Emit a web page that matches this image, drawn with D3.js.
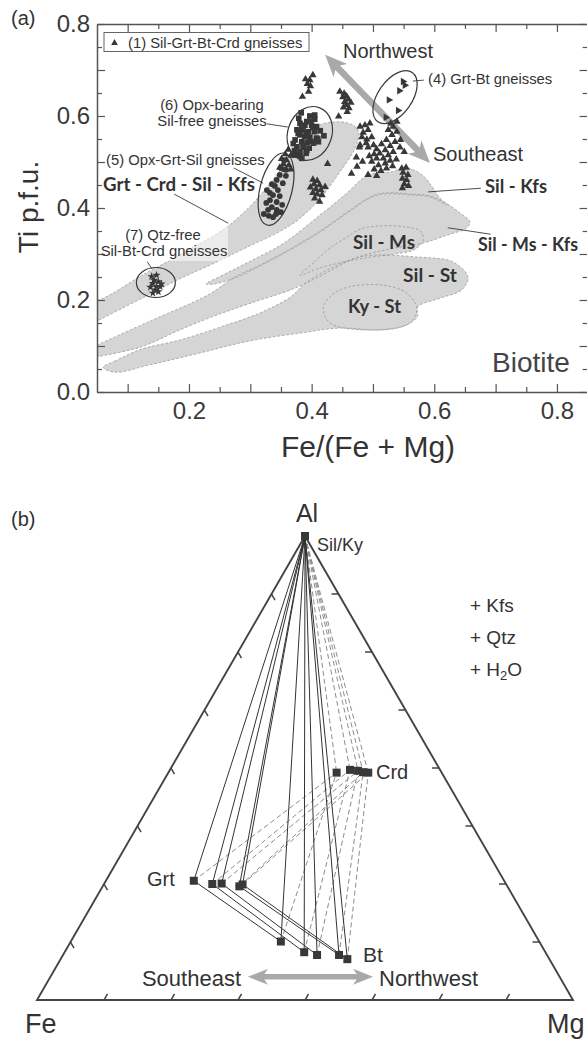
<!DOCTYPE html>
<html>
<head>
<meta charset="utf-8">
<script src="https://cdn.jsdelivr.net/npm/d3@7/dist/d3.min.js"></script>
<style>
html,body{margin:0;padding:0;background:#fff;}
svg{display:block;}
</style>
</head>
<body>
<svg id="chart" width="587" height="1040"></svg>
<script>
// ================= Panel (a) data =================
const xMajorA = [0.1,0.2,0.3,0.4,0.5,0.6,0.7,0.8];
const xMinorA = [0.15,0.25,0.35,0.45,0.55,0.65,0.75,0.85];
const yMajorA = [0.0,0.1,0.2,0.3,0.4,0.5,0.6,0.7,0.8];
const yMinorA = [0.05,0.15,0.25,0.35,0.45,0.55,0.65,0.75];
const xLabelsA = [0.2,0.4,0.6,0.8];
const yLabelsA = [0.0,0.2,0.4,0.6,0.8];

// (1) Sil-Grt-Bt-Crd gneisses  [Fe/(Fe+Mg), Ti]
const silGrtBtCrd = [
 [0.402,0.689],[0.390,0.680],[0.397,0.678],[0.393,0.670],[0.398,0.665],[0.395,0.653],[0.385,0.642],
 [0.446,0.653],[0.453,0.649],[0.457,0.643],[0.451,0.641],[0.460,0.636],[0.454,0.631],[0.464,0.629],[0.457,0.624],[0.452,0.619],[0.461,0.617],[0.458,0.609],[0.444,0.599],
 [0.479,0.577],[0.487,0.580],[0.495,0.584],[0.492,0.570],[0.484,0.564],[0.482,0.554],[0.490,0.549],[0.498,0.554],[0.479,0.537],[0.492,0.532],[0.501,0.537],[0.506,0.528],[0.514,0.539],[0.522,0.548],[0.531,0.559],[0.533,0.577],[0.539,0.566],[0.525,0.570],[0.536,0.544],[0.528,0.535],[0.520,0.526],[0.511,0.519],[0.502,0.517],[0.494,0.513],[0.506,0.508],[0.517,0.508],[0.525,0.515],[0.533,0.522],[0.544,0.532],[0.551,0.522],[0.498,0.501],[0.509,0.493],[0.520,0.497],[0.528,0.503],[0.538,0.506],[0.502,0.484],[0.513,0.481],[0.522,0.486],[0.532,0.491],[0.506,0.470],[0.492,0.472],[0.483,0.501],[0.473,0.510],[0.465,0.475],[0.478,0.532],[0.489,0.541],[0.539,0.588],[0.529,0.584],[0.545,0.548],
 [0.402,0.462],[0.409,0.459],[0.404,0.452],[0.413,0.450],[0.398,0.445],[0.407,0.441],[0.415,0.439],[0.402,0.433],[0.409,0.430],[0.417,0.428],[0.405,0.421],[0.413,0.414],[0.422,0.446],[0.426,0.496],
 [0.547,0.486],[0.554,0.488],[0.549,0.477],[0.557,0.472],[0.548,0.464],[0.555,0.461],[0.551,0.452],[0.558,0.448],[0.548,0.443],
 [0.362,0.527],[0.357,0.517],[0.366,0.514],[0.351,0.507],[0.359,0.504],[0.354,0.496],[0.363,0.493],[0.348,0.488],[0.357,0.483],[0.366,0.484],
 [0.474,0.490]
];
// (4) Grt-Bt gneisses
const grtBt = [[0.549,0.675],[0.552,0.667],[0.543,0.655],[0.526,0.635],[0.541,0.612],[0.521,0.597]];
// (5) Opx-Grt-Sil gneisses
const opxGrtSil = [
 [0.355,0.504],[0.350,0.487],[0.358,0.483],[0.348,0.472],[0.358,0.470],[0.343,0.461],[0.353,0.454],[0.335,0.452],[0.340,0.448],[0.327,0.439],[0.345,0.439],[0.332,0.433],[0.337,0.428],[0.348,0.426],[0.332,0.417],[0.343,0.413],[0.326,0.411],[0.352,0.407],[0.335,0.402],[0.329,0.396],[0.343,0.396],[0.350,0.391],[0.322,0.387],[0.342,0.387],[0.330,0.383],[0.337,0.380]
];
// (6) Opx-bearing Sil-free gneisses
const opxSilFree = [
 [0.383,0.607],[0.397,0.600],[0.405,0.593],[0.381,0.584],[0.389,0.580],[0.400,0.580],[0.408,0.577],[0.376,0.570],[0.386,0.570],[0.395,0.566],[0.405,0.566],[0.414,0.568],[0.420,0.557],[0.381,0.559],[0.389,0.555],[0.397,0.554],[0.408,0.552],[0.373,0.548],[0.384,0.544],[0.393,0.542],[0.403,0.541],[0.411,0.544],[0.376,0.533],[0.386,0.532],[0.396,0.530],[0.381,0.522],[0.391,0.519],[0.373,0.515],[0.381,0.512],
 [0.379,0.595],[0.392,0.588],[0.402,0.575],[0.378,0.562],[0.391,0.562],[0.399,0.545],[0.387,0.537],[0.372,0.525],[0.392,0.525],[0.384,0.508],[0.410,0.550],[0.370,0.540],[0.398,0.588],[0.384,0.572],[0.405,0.602]
];
// (7) Qtz-free Sil-Bt-Crd gneisses
const qtzFree = [[0.139,0.251],[0.147,0.254],[0.143,0.243],[0.150,0.240],[0.141,0.236],[0.147,0.229],[0.153,0.229],[0.145,0.222],[0.150,0.218],[0.155,0.235],[0.137,0.228],[0.141,0.215]];

// Biotite stability fields (outline vertices)
const fieldGrtCrdSilKfs = [[0.040,0.207],[0.050,0.200],[0.128,0.257],[0.197,0.307],[0.264,0.361],[0.309,0.417],[0.344,0.474],[0.366,0.517],[0.389,0.559],[0.412,0.580],[0.435,0.587],[0.458,0.585],[0.472,0.576],[0.477,0.563],[0.474,0.540],[0.463,0.511],[0.446,0.478],[0.430,0.448],[0.414,0.420],[0.394,0.393],[0.374,0.370],[0.344,0.346],[0.298,0.317],[0.241,0.280],[0.185,0.246],[0.128,0.207],[0.050,0.154],[0.040,0.147]];
const fieldSilKfs = [[0.228,0.235],[0.252,0.252],[0.298,0.283],[0.355,0.324],[0.412,0.383],[0.458,0.433],[0.480,0.461],[0.497,0.474],[0.528,0.478],[0.555,0.487],[0.582,0.470],[0.609,0.422],[0.621,0.407],[0.593,0.424],[0.565,0.428],[0.507,0.428],[0.458,0.389],[0.414,0.348],[0.365,0.309],[0.316,0.274],[0.275,0.248],[0.242,0.235]];
const fieldSilMsKfs = [[0.040,0.096],[0.050,0.102],[0.136,0.154],[0.231,0.211],[0.275,0.250],[0.316,0.276],[0.365,0.311],[0.414,0.350],[0.458,0.391],[0.507,0.430],[0.565,0.430],[0.593,0.426],[0.621,0.409],[0.642,0.389],[0.658,0.370],[0.653,0.357],[0.621,0.341],[0.582,0.324],[0.528,0.311],[0.471,0.291],[0.414,0.252],[0.366,0.222],[0.316,0.200],[0.251,0.170],[0.185,0.135],[0.122,0.098],[0.050,0.076],[0.040,0.072]];
const fieldSilMs = [[0.381,0.254],[0.405,0.283],[0.430,0.313],[0.458,0.337],[0.479,0.354],[0.511,0.361],[0.552,0.359],[0.577,0.350],[0.582,0.330],[0.567,0.309],[0.536,0.300],[0.495,0.293],[0.454,0.283],[0.414,0.270]];
const fieldSilSt = [[0.060,0.054],[0.079,0.067],[0.122,0.093],[0.185,0.113],[0.251,0.141],[0.316,0.172],[0.366,0.207],[0.389,0.236],[0.430,0.268],[0.484,0.295],[0.577,0.293],[0.630,0.283],[0.655,0.250],[0.645,0.222],[0.609,0.204],[0.573,0.185],[0.572,0.163],[0.555,0.146],[0.511,0.135],[0.446,0.139],[0.381,0.128],[0.299,0.111],[0.218,0.085],[0.136,0.059],[0.079,0.043]];
const fieldKySt = [[0.419,0.185],[0.446,0.222],[0.511,0.233],[0.555,0.215],[0.572,0.178],[0.555,0.146],[0.484,0.135],[0.430,0.150]];

// centres of the sample-group envelopes
const groupCentres = [
  {g:"4", c:[0.536,0.641]},
  {g:"6", c:[0.397,0.562]},
  {g:"5", c:[0.342,0.441]},
  {g:"7", c:[0.146,0.238]}
];
// NW-SE trend arrow end points
const trendA = [[0.422,0.733],[0.593,0.498]];
// label leader lines [from, to]
const leadersA = [
  [[0.327,0.583],[0.361,0.576]],
  [[0.273,0.487],[0.321,0.454]],
  [[0.132,0.283],[0.140,0.267]],
  [[0.565,0.676],[0.583,0.678]],
  [[0.176,0.430],[0.264,0.367]],
  [[0.590,0.435],[0.676,0.443]],
  [[0.622,0.357],[0.692,0.343]]
];

// ================= Panel (b) data  [Fe, Mg, Al] =================
const silKy = [0,0,1];
const crd = [[0.196,0.314,0.490],[0.168,0.336,0.496],[0.154,0.352,0.494],[0.146,0.363,0.491],[0.137,0.373,0.490]];
const grt = [[0.579,0.164,0.257],[0.548,0.202,0.250],[0.530,0.219,0.251],[0.500,0.255,0.245],[0.492,0.259,0.249]];
const bt  = [[0.482,0.392,0.126],[0.450,0.447,0.103],[0.429,0.474,0.097],[0.388,0.515,0.097],[0.377,0.535,0.088]];
const trendB = [[0.582,0.369,0.050],[0.348,0.602,0.050]];
const ternTicks = [0.125,0.25,0.375,0.5,0.625,0.75,0.875];

// ================= drawing =================
const SANS = '"Liberation Sans", Arial, Helvetica, sans-serif';
const BOLD = 'Lato, "Open Sans", "DejaVu Sans", sans-serif';
const INK = '#383838';
const AX = '#555';
const svg = d3.select('#chart');

function txt(g, x, y, s, size, opts={}) {
  const t = g.append('text').attr('x', x).attr('y', y).text(s)
    .attr('font-family', opts.family || SANS).attr('font-size', size)
    .attr('fill', opts.fill || '#333');
  if (opts.anchor) t.attr('text-anchor', opts.anchor);
  if (opts.weight) t.attr('font-weight', opts.weight);
  if (opts.len) t.attr('textLength', opts.len).attr('lengthAdjust', 'spacingAndGlyphs');
  return t;
}
function arrowPath(p1, p2, shaft, headL, headW) {
  const dx = p2[0]-p1[0], dy = p2[1]-p1[1], L = Math.hypot(dx, dy);
  const ux = dx/L, uy = dy/L, nx = -uy, ny = ux;
  const P = (p, a, b) => [p[0]+ux*a+nx*b, p[1]+uy*a+ny*b];
  const pts = [p1, P(p1, headL, headW/2), P(p1, headL*0.82, shaft/2), P(p2, -headL*0.82, shaft/2),
    P(p2, -headL, headW/2), p2, P(p2, -headL, -headW/2), P(p2, -headL*0.82, -shaft/2),
    P(p1, headL*0.82, -shaft/2), P(p1, headL, -headW/2)];
  return 'M' + pts.map(p => p[0].toFixed(2)+','+p[1].toFixed(2)).join('L') + 'Z';
}

// ---------- Panel (a)
const xA = d3.scaleLinear().domain([0.05, 0.85]).range([97, 587.6]);
const yA = d3.scaleLinear().domain([0, 0.8]).range([392, 24]);
const gA = svg.append('g');

svg.append('defs').append('clipPath').attr('id', 'clipA')
  .append('rect').attr('x', xA(0.05)).attr('y', yA(0.8))
  .attr('width', xA(0.85)-xA(0.05)).attr('height', yA(0)-yA(0.8));

const fields = [fieldGrtCrdSilKfs, fieldSilKfs, fieldSilMsKfs, fieldSilMs, fieldSilSt, fieldKySt];
const fLine = d3.line().x(d => xA(d[0])).y(d => yA(d[1])).curve(d3.curveCatmullRomClosed.alpha(0.5));
const gF = gA.append('g').attr('clip-path', 'url(#clipA)');
gF.selectAll('path.fill').data(fields).join('path').attr('class','fill')
  .attr('d', fLine).attr('fill', '#d5d5d5').attr('stroke', 'none');
gF.selectAll('path.edge').data(fields).join('path').attr('class','edge')
  .attr('d', fLine).attr('fill', 'none').attr('stroke', '#8f8f8f')
  .attr('stroke-width', 0.7).attr('stroke-dasharray', '2.5,2');

// label background for (7)
gA.append('rect').attr('x', 98).attr('y', 226).attr('width', 130).attr('height', 35)
  .attr('fill', '#fff').attr('opacity', 0.55);

// trend arrow
gA.append('path').attr('d', arrowPath([xA(trendA[0][0]), yA(trendA[0][1])], [xA(trendA[1][0]), yA(trendA[1][1])], 6.5, 22, 19))
  .attr('fill', '#a9a9a9');

// leaders
gA.selectAll('line.lead').data(leadersA).join('line').attr('class','lead')
  .attr('x1', d => xA(d[0][0])).attr('y1', d => yA(d[0][1]))
  .attr('x2', d => xA(d[1][0])).attr('y2', d => yA(d[1][1]))
  .attr('stroke', '#3a3a3a').attr('stroke-width', 0.9);

// markers
const sym = (type, size) => d3.symbol().type(type).size(size)();
gA.selectAll('path.t1').data(silGrtBtCrd).join('path').attr('class','t1')
  .attr('d', sym(d3.symbolTriangle, 24))
  .attr('transform', d => `translate(${xA(d[0])},${yA(d[1])})`).attr('fill', INK);
gA.selectAll('path.t4').data(grtBt).join('path').attr('class','t4')
  .attr('d', sym(d3.symbolTriangle, 24))
  .attr('transform', d => `translate(${xA(d[0])},${yA(d[1])}) rotate(90)`).attr('fill', INK);
gA.selectAll('path.s6').data(opxSilFree).join('path').attr('class','s6')
  .attr('d', sym(d3.symbolSquare, 32))
  .attr('transform', d => `translate(${xA(d[0])},${yA(d[1])})`).attr('fill', INK);
gA.selectAll('circle.c5').data(opxGrtSil).join('circle').attr('class','c5')
  .attr('cx', d => xA(d[0])).attr('cy', d => yA(d[1])).attr('r', 2.9).attr('fill', INK);
gA.selectAll('path.st7').data(qtzFree).join('path').attr('class','st7')
  .attr('d', sym(d3.symbolStar, 22))
  .attr('transform', d => `translate(${xA(d[0])},${yA(d[1])})`).attr('fill', INK);

// envelopes
const envShape = {"4": [30, 17, -55], "6": [22, 27.5, 20], "5": [16, 37, 14], "7": [19.5, 15, 0]};
gA.selectAll('ellipse.env').data(groupCentres).join('ellipse').attr('class','env')
  .attr('rx', d => envShape[d.g][0]).attr('ry', d => envShape[d.g][1])
  .attr('transform', d => `translate(${xA(d.c[0])},${yA(d.c[1])}) rotate(${envShape[d.g][2]})`)
  .attr('fill', 'none').attr('stroke', '#3a3a3a').attr('stroke-width', 1.2);

// axes
function styleAxis(g, fs) {
  g.select('.domain').attr('stroke', AX).attr('stroke-width', 1.5);
  g.selectAll('.tick line').attr('stroke', AX).attr('stroke-width', 1.2);
  g.selectAll('.tick text').attr('font-family', SANS).attr('font-size', fs).attr('fill', '#3a3a3a');
  g.attr('font-family', null).attr('font-size', null);
}
const fmt = d3.format('.1f');
const bx = gA.append('g').attr('transform', `translate(0,${yA(0)})`)
  .call(d3.axisBottom(xA).tickValues(xMajorA).tickSize(-8).tickSizeOuter(0).tickPadding(10)
    .tickFormat(d => xLabelsA.includes(d) ? fmt(d) : ''));
styleAxis(bx, 24);
const bx2 = gA.append('g').attr('transform', `translate(0,${yA(0)})`)
  .call(d3.axisBottom(xA).tickValues(xMinorA).tickSize(-5).tickSizeOuter(0).tickFormat(''));
styleAxis(bx2, 24); bx2.select('.domain').remove();
const tx = gA.append('g').attr('transform', `translate(0,${yA(0.8)})`)
  .call(d3.axisTop(xA).tickValues(xMajorA).tickSize(-8).tickSizeOuter(0).tickFormat(''));
styleAxis(tx, 24);
const tx2 = gA.append('g').attr('transform', `translate(0,${yA(0.8)})`)
  .call(d3.axisTop(xA).tickValues(xMinorA).tickSize(-5).tickSizeOuter(0).tickFormat(''));
styleAxis(tx2, 24); tx2.select('.domain').remove();
const ly = gA.append('g').attr('transform', `translate(${xA(0.05)},0)`)
  .call(d3.axisLeft(yA).tickValues(yMajorA).tickSize(-8).tickSizeOuter(0).tickPadding(7)
    .tickFormat(d => yLabelsA.includes(d) ? fmt(d) : ''));
styleAxis(ly, 24);
const ly2 = gA.append('g').attr('transform', `translate(${xA(0.05)},0)`)
  .call(d3.axisLeft(yA).tickValues(yMinorA).tickSize(-5).tickSizeOuter(0).tickFormat(''));
styleAxis(ly2, 24); ly2.select('.domain').remove();
const ry = gA.append('g').attr('transform', `translate(${xA(0.85)},0)`)
  .call(d3.axisRight(yA).tickValues(yMajorA).tickSize(-8).tickSizeOuter(0).tickFormat(''));
styleAxis(ry, 24);
const ry2 = gA.append('g').attr('transform', `translate(${xA(0.85)},0)`)
  .call(d3.axisRight(yA).tickValues(yMinorA).tickSize(-5).tickSizeOuter(0).tickFormat(''));
styleAxis(ry2, 24); ry2.select('.domain').remove();

// legend
gA.append('rect').attr('x', 104).attr('y', 32.5).attr('width', 205).attr('height', 19)
  .attr('fill', '#fff').attr('stroke', '#555').attr('stroke-width', 0.9);
gA.append('path').attr('d', sym(d3.symbolTriangle, 20)).attr('transform', 'translate(114.5,43)').attr('fill', INK);
txt(gA, 128, 47.5, '(1) Sil-Grt-Bt-Crd gneisses', 14.8);

// texts (a)
txt(gA, 11, 25, '(a)', 20);
txt(gA, 212, 110, '(6) Opx-bearing', 14.8, {anchor: 'middle'});
txt(gA, 212, 126, 'Sil-free gneisses', 14.8, {anchor: 'middle'});
txt(gA, 106, 165, '(5) Opx-Grt-Sil gneisses', 14.8);
txt(gA, 163, 240, '(7) Qtz-free', 14.8, {anchor: 'middle'});
txt(gA, 164, 256, 'Sil-Bt-Crd gneisses', 14.8, {anchor: 'middle'});
txt(gA, 428, 84, '(4) Grt-Bt gneisses', 14.8);
txt(gA, 343, 58, 'Northwest', 20);
txt(gA, 433, 161, 'Southeast', 20);
txt(gA, 103, 191, 'Grt - Crd - Sil - Kfs', 18.5, {family: BOLD, weight: 700, len: 152});
txt(gA, 485, 193, 'Sil - Kfs', 18.5, {family: BOLD, weight: 700, len: 62});
txt(gA, 478, 251, 'Sil - Ms - Kfs', 18.5, {family: BOLD, weight: 700, len: 100});
txt(gA, 353, 249, 'Sil - Ms', 18.5, {family: BOLD, weight: 700, len: 62});
txt(gA, 403, 282, 'Sil - St', 18.5, {family: BOLD, weight: 700, len: 54});
txt(gA, 348, 313, 'Ky - St', 18.5, {family: BOLD, weight: 700, len: 53});
txt(gA, 492, 372, 'Biotite', 28, {fill: '#444'});
txt(gA, 368, 457, 'Fe/(Fe + Mg)', 30, {anchor: 'middle'});
gA.append('text').attr('transform', 'translate(38,207) rotate(-90)').attr('text-anchor', 'middle')
  .attr('font-family', SANS).attr('font-size', 28).attr('fill', '#333').text('Ti p.f.u.');

// ---------- Panel (b)
const xT = d3.scaleLinear().domain([0, 1]).range([37, 573]);
const yT = d3.scaleLinear().domain([0, 1]).range([1000, 536]);
const tern = d => { const s = d[0]+d[1]+d[2]; return [xT((d[1] + d[2]/2)/s), yT(d[2]/s)]; };
const gB = svg.append('g');

const vFe = tern([1,0,0]), vMg = tern([0,1,0]), vAl = tern([0,0,1]);
gB.append('path').attr('d', `M${vFe}L${vMg}L${vAl}Z`).attr('fill', 'none')
  .attr('stroke', '#444').attr('stroke-width', 1.9).attr('stroke-linejoin', 'miter');

// ternary ticks
const TL = 7;
const tickSegs = [];
ternTicks.forEach(f => {
  const pb = tern([1-f, f, 0]);
  tickSegs.push([pb, [pb[0] + TL*0.5, pb[1] - TL*0.866]]);
  const pr = tern([0, 1-f, f]);
  tickSegs.push([pr, [pr[0] - TL, pr[1]]]);
  const pl = tern([1-f, 0, f]);
  tickSegs.push([pl, [pl[0] + TL*0.5, pl[1] + TL*0.866]]);
});
gB.selectAll('line.tt').data(tickSegs).join('line').attr('class','tt')
  .attr('x1', d => d[0][0]).attr('y1', d => d[0][1]).attr('x2', d => d[1][0]).attr('y2', d => d[1][1])
  .attr('stroke', '#444').attr('stroke-width', 1.5);

// tie lines
const dashed = [], solid = [];
crd.forEach((c, i) => {
  dashed.push([silKy, c], [grt[i], c], [bt[i], c]);
  solid.push([silKy, grt[i]], [silKy, bt[i]], [grt[i], bt[i]]);
});
gB.selectAll('line.dl').data(dashed).join('line').attr('class','dl')
  .attr('x1', d => tern(d[0])[0]).attr('y1', d => tern(d[0])[1])
  .attr('x2', d => tern(d[1])[0]).attr('y2', d => tern(d[1])[1])
  .attr('stroke', '#8c8c8c').attr('stroke-width', 1).attr('stroke-dasharray', '5,3');
gB.selectAll('line.sl').data(solid).join('line').attr('class','sl')
  .attr('x1', d => tern(d[0])[0]).attr('y1', d => tern(d[0])[1])
  .attr('x2', d => tern(d[1])[0]).attr('y2', d => tern(d[1])[1])
  .attr('stroke', '#333').attr('stroke-width', 1);

// phase points
const phases = [silKy].concat(crd, grt, bt);
gB.selectAll('path.ph').data(phases).join('path').attr('class','ph')
  .attr('d', sym(d3.symbolSquare, 64))
  .attr('transform', d => `translate(${tern(d)[0]},${tern(d)[1]})`).attr('fill', INK);

// trend arrow (b)
gB.append('path').attr('d', arrowPath(tern(trendB[0]), tern(trendB[1]), 5.5, 20, 16)).attr('fill', '#a9a9a9');

// texts (b)
txt(gB, 11, 526, '(b)', 20);
txt(gB, 307, 522, 'Al', 25, {anchor: 'middle'});
txt(gB, 317, 551, 'Sil/Ky', 18);
txt(gB, 376, 779, 'Crd', 20);
txt(gB, 147, 886, 'Grt', 20);
txt(gB, 363, 962, 'Bt', 21);
txt(gB, 241, 986, 'Southeast', 22, {anchor: 'end'});
txt(gB, 379, 986, 'Northwest', 22);
txt(gB, 25, 1033, 'Fe', 27);
txt(gB, 547, 1033, 'Mg', 27);
txt(gB, 470, 612, '+ Kfs', 19);
txt(gB, 470, 644, '+ Qtz', 19);
const h2o = txt(gB, 470, 676, '+ H', 19);
h2o.append('tspan').attr('font-size', 13).attr('dy', 4).text('2');
h2o.append('tspan').attr('dy', -4).text('O');
</script>
</body>
</html>
